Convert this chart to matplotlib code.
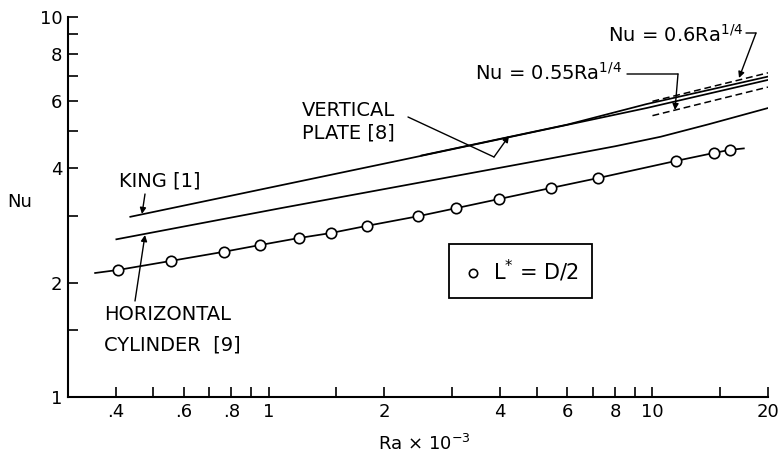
import matplotlib
matplotlib.use("Agg")
import matplotlib.pyplot as plt
from matplotlib.ticker import FixedLocator, FixedFormatter

plt.rcParams['font.family'] = ['DejaVu Sans']
plt.rcParams['mathtext.fontset'] = 'dejavusans'

# ---- data (Ra x 10^-3 vs Nu) ----
ra_circles = [0.406, 0.555, 0.763, 0.947, 1.198, 1.45, 1.80, 2.45, 3.08, 3.99,
              5.45, 7.23, 11.5, 14.5, 15.9]
nu_circles = [2.16, 2.28, 2.41, 2.51, 2.62, 2.70, 2.82, 2.99, 3.14, 3.32,
              3.55, 3.77, 4.18, 4.39, 4.47]
ra_circle_line = [0.353] + ra_circles + [17.3]
nu_circle_line = [2.12] + nu_circles + [4.51]

ra_king = [0.436, 2.21, 9.65, 20.0]
nu_king = [2.98, 4.20, 5.76, 6.83]

ra_vplate = [2.5, 6.0, 9.65, 20.0]
nu_vplate = [4.32, 5.21, 5.90, 6.97]

ra_hcyl = [0.401, 1.075, 5.13, 8.0, 10.5, 14.0, 20.0]
nu_hcyl = [2.60, 3.14, 4.20, 4.57, 4.84, 5.22, 5.76]

ra_corr = [10.0, 20.0]
nu_corr_060 = [6.00, 7.13]
nu_corr_055 = [5.50, 6.54]

x_ticks = [0.4, 0.6, 0.8, 1, 2, 4, 6, 8, 10, 20]
x_tick_labels = ['.4', '.6', '.8', '1', '2', '4', '6', '8', '10', '20']
x_minor = [0.5, 0.7, 0.9, 1.5, 3, 5, 7, 9, 15]
y_ticks = [1, 2, 4, 6, 8, 10]
y_tick_labels = ['1', '2', '4', '6', '8', '10']
y_minor = [1.5, 3, 5, 7, 9]

W, H = 781, 455
fig = plt.figure(figsize=(W / 100, H / 100), dpi=100)
ax = fig.add_axes([68 / W, 1 - 397 / H, (768 - 68) / W, (397 - 17) / H])
ax.set_xscale('log')
ax.set_yscale('log')
ax.set_xlim(0.30, 20)
ax.set_ylim(1, 10)

LW = 1.25
ax.plot(ra_circle_line, nu_circle_line, color='black', lw=LW, zorder=2)
ax.plot(ra_circles, nu_circles, 'o', ms=7.5, mfc='white', mec='black', mew=1.2,
        zorder=3, label=r'L$^{*}$ = D/2')
ax.plot(ra_king, nu_king, color='black', lw=LW)
ax.plot(ra_vplate, nu_vplate, color='black', lw=LW)
ax.plot(ra_hcyl, nu_hcyl, color='black', lw=LW)
ax.plot(ra_corr, nu_corr_060, color='black', lw=1.1, ls=(0, (4.5, 2.5)))
ax.plot(ra_corr, nu_corr_055, color='black', lw=1.1, ls=(0, (4.5, 2.5)))

# axes styling
for s in ('top', 'right'):
    ax.spines[s].set_visible(False)
for s in ('left', 'bottom'):
    ax.spines[s].set_linewidth(1.5)
ax.xaxis.set_major_locator(FixedLocator(x_ticks))
ax.xaxis.set_major_formatter(FixedFormatter(x_tick_labels))
ax.xaxis.set_minor_locator(FixedLocator(x_minor))
ax.xaxis.set_minor_formatter(FixedFormatter([''] * len(x_minor)))
ax.yaxis.set_major_locator(FixedLocator(y_ticks))
ax.yaxis.set_major_formatter(FixedFormatter(y_tick_labels))
ax.yaxis.set_minor_locator(FixedLocator(y_minor))
ax.yaxis.set_minor_formatter(FixedFormatter([''] * len(y_minor)))
ax.tick_params(which='both', direction='in', length=7, width=1.2, labelsize=13)
ax.tick_params(axis='x', which='both', pad=4)
ax.tick_params(axis='y', which='both', pad=4)

fig.text(20 / W, 1 - 202 / H, 'Nu', ha='center', va='center', fontsize=13)
fig.text(424 / W, 1 - 444 / H, r'Ra $\times$ 10$^{-3}$', ha='center', va='center', fontsize=13)

TXT = 14
def fp(px, py):
    return (px, H - py)

arrow = dict(arrowstyle='-|>', color='black', lw=1.0, mutation_scale=9, shrinkA=0, shrinkB=0)
line_only = dict(arrowstyle='-', color='black', lw=1.0, shrinkA=0, shrinkB=0)

# KING [1]
fig.text(160 / W, 1 - 181 / H, 'KING [1]', fontsize=TXT, ha='center', va='center')
ax.annotate('', xy=fp(142, 214), xycoords='figure pixels',
            xytext=fp(145, 194), textcoords='figure pixels', arrowprops=arrow)

# HORIZONTAL CYLINDER [9]
fig.text(104 / W, 1 - 315 / H, 'HORIZONTAL', fontsize=TXT, ha='left', va='center')
fig.text(104 / W, 1 - 345 / H, 'CYLINDER  [9]', fontsize=TXT, ha='left', va='center')
ax.annotate('', xy=fp(145, 235), xycoords='figure pixels',
            xytext=fp(135, 301), textcoords='figure pixels', arrowprops=arrow)

# VERTICAL PLATE [8]
fig.text(302 / W, 1 - 110 / H, 'VERTICAL', fontsize=TXT, ha='left', va='center')
fig.text(302 / W, 1 - 133 / H, 'PLATE [8]', fontsize=TXT, ha='left', va='center')
ax.annotate('', xy=fp(494, 157), xycoords='figure pixels',
            xytext=fp(408, 117), textcoords='figure pixels', arrowprops=line_only)
ax.annotate('', xy=fp(509, 136), xycoords='figure pixels',
            xytext=fp(494, 157), textcoords='figure pixels', arrowprops=arrow)

# Nu = 0.55 Ra^1/4
fig.text(475 / W, 1 - 73 / H, r'Nu = 0.55Ra$^{1/4}$', fontsize=TXT, ha='left', va='center')
ax.annotate('', xy=fp(678, 74), xycoords='figure pixels',
            xytext=fp(627, 74), textcoords='figure pixels', arrowprops=line_only)
ax.annotate('', xy=fp(675, 110), xycoords='figure pixels',
            xytext=fp(678, 74), textcoords='figure pixels', arrowprops=arrow)

# Nu = 0.6 Ra^1/4
fig.text(608 / W, 1 - 35 / H, r'Nu = 0.6Ra$^{1/4}$', fontsize=TXT, ha='left', va='center')
ax.annotate('', xy=fp(756, 33), xycoords='figure pixels',
            xytext=fp(746, 33), textcoords='figure pixels', arrowprops=line_only)
ax.annotate('', xy=fp(739, 78), xycoords='figure pixels',
            xytext=fp(756, 33), textcoords='figure pixels', arrowprops=arrow)

leg = ax.legend(loc='center', bbox_to_anchor=(520.5 / W, 1 - 271 / H),
                bbox_transform=fig.transFigure, fontsize=15, frameon=True,
                fancybox=False, framealpha=1, edgecolor='black',
                handlelength=1.0, handletextpad=0.45, borderpad=0.65,
                borderaxespad=0, markerscale=0.8)
leg.get_frame().set_linewidth(1.3)

fig.savefig('out.png', dpi=100)
